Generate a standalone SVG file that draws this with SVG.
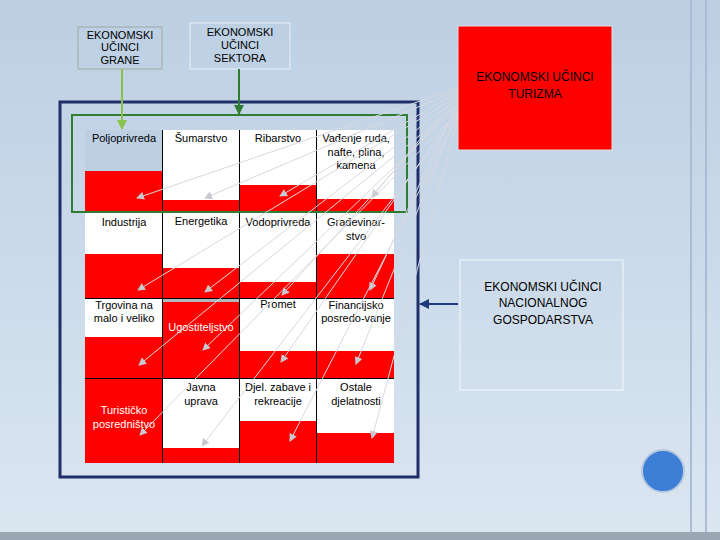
<svg xmlns="http://www.w3.org/2000/svg" width="720" height="540" viewBox="0 0 720 540">
<defs>
<linearGradient id="bg" x1="0" y1="0" x2="0" y2="1"><stop offset="0" stop-color="#bccfe3"/><stop offset="1" stop-color="#dbe6f1"/></linearGradient>
<marker id="ah" markerWidth="8" markerHeight="8" refX="7" refY="4" orient="auto" markerUnits="userSpaceOnUse"><path d="M0,0 L8,4 L0,8 z" fill="#c8c8d0"/></marker>
<marker id="gn" markerWidth="10" markerHeight="10" refX="9" refY="5" orient="auto" markerUnits="userSpaceOnUse"><path d="M0,0 L10,5 L0,10 z" fill="#2e7d32"/></marker>
<marker id="lg" markerWidth="10" markerHeight="10" refX="9" refY="5" orient="auto" markerUnits="userSpaceOnUse"><path d="M0,0 L10,5 L0,10 z" fill="#8bc34a"/></marker>
<marker id="nv" markerWidth="10" markerHeight="10" refX="9" refY="5" orient="auto" markerUnits="userSpaceOnUse"><path d="M0,0 L10,5 L0,10 z" fill="#1f3a7a"/></marker>
</defs>
<style>
.t{font-family:"Liberation Sans",Arial,sans-serif;font-size:11px;fill:#000;text-anchor:middle}
.tw{font-family:"Liberation Sans",Arial,sans-serif;font-size:11px;fill:#fff;text-anchor:middle}
.h{font-family:"Liberation Sans",Arial,sans-serif;font-size:11px;fill:#000;text-anchor:middle}
.r{fill:#ff0000}.w{fill:#fff}
.c line{stroke:#d8d8e0;stroke-width:1;marker-end:url(#ah)}
</style>
<rect width="720" height="540" fill="url(#bg)"/>
<line x1="691" y1="0" x2="691" y2="540" stroke="#a9bdd4" stroke-width="2"/>
<line x1="706" y1="0" x2="706" y2="540" stroke="#a9bdd4" stroke-width="2"/>
<rect x="0" y="532" width="720" height="8" fill="#9aa6b2"/>
<circle cx="663" cy="471" r="21" fill="#3d7fd6" stroke="#b8c8e0" stroke-width="2"/>

<g id="grane"><rect x="78" y="27" width="84" height="42" fill="none" stroke="#a0a8a0"/>
<text class="h" x="120" y="39">EKONOMSKI</text><text class="h" x="120" y="51">UČINCI</text><text class="h" x="120" y="64">GRANE</text></g>
<g id="sektora"><rect x="190" y="23" width="100" height="46" fill="none" stroke="#e8eef4"/>
<text class="h" x="240" y="36">EKONOMSKI</text><text class="h" x="240" y="49">UČINCI</text><text class="h" x="240" y="62">SEKTORA</text></g>
<g id="turizma"><rect x="458" y="26" width="154" height="124" fill="#ff0000" stroke="#e0e0e0"/>
<text class="h" x="535" y="81" style="font-size:12px">EKONOMSKI UČINCI</text><text class="h" x="535" y="98" style="font-size:12px">TURIZMA</text></g>
<g id="nacionalnog"><rect x="460" y="260" width="163" height="130" fill="none" stroke="#f4f8fb"/>
<text class="h" x="543" y="291" style="font-size:12px">EKONOMSKI UČINCI</text><text class="h" x="543" y="307" style="font-size:12px">NACIONALNOG</text><text class="h" x="543" y="324" style="font-size:12px">GOSPODARSTVA</text></g>

<g id="frame"><rect x="60" y="102" width="358" height="375" fill="none" stroke="#1f2f6a" stroke-width="3"/></g>

<g id="grid">
<rect x="85" y="130" width="309" height="333" fill="#000"/>
<!-- row1 -->
<rect x="85" y="130" width="77" height="41" fill="#bccfe3"/><rect class="r" x="85" y="171" width="77" height="41"/>
<rect class="w" x="163" y="130" width="76" height="70"/><rect class="r" x="163" y="200" width="76" height="12"/>
<rect class="w" x="240" y="130" width="76" height="55"/><rect class="r" x="240" y="185" width="76" height="27"/>
<rect class="w" x="317" y="130" width="77" height="69"/><rect class="r" x="317" y="199" width="77" height="13"/>
<!-- row2 -->
<rect class="w" x="85" y="213" width="77" height="41"/><rect class="r" x="85" y="254" width="77" height="44"/>
<rect class="w" x="163" y="213" width="76" height="55"/><rect class="r" x="163" y="268" width="76" height="30"/>
<rect class="w" x="240" y="213" width="76" height="69"/><rect class="r" x="240" y="282" width="76" height="16"/>
<rect class="w" x="317" y="213" width="77" height="41"/><rect class="r" x="317" y="254" width="77" height="44"/>
<!-- row3 -->
<rect class="w" x="85" y="299" width="77" height="38"/><rect class="r" x="85" y="337" width="77" height="41"/>
<rect x="163" y="299" width="76" height="3" fill="#b0b8c0"/><rect class="r" x="163" y="302" width="76" height="76"/>
<rect class="w" x="240" y="299" width="76" height="52"/><rect class="r" x="240" y="351" width="76" height="27"/>
<rect class="w" x="317" y="299" width="77" height="52"/><rect class="r" x="317" y="351" width="77" height="27"/>
<!-- row4 -->
<rect class="r" x="85" y="379" width="77" height="84"/>
<rect class="w" x="163" y="379" width="76" height="69"/><rect class="r" x="163" y="448" width="76" height="15"/>
<rect class="w" x="240" y="379" width="76" height="42"/><rect class="r" x="240" y="421" width="76" height="42"/>
<rect class="w" x="317" y="379" width="77" height="54"/><rect class="r" x="317" y="433" width="77" height="30"/>
<text class="t" x="124" y="142">Poljoprivreda</text>
<text class="t" x="201" y="142">Šumarstvo</text>
<text class="t" x="278" y="142">Ribarstvo</text>
<text class="t" x="356" y="142">Vađenje ruda,</text><text class="t" x="356" y="156">nafte, plina,</text><text class="t" x="356" y="169">kamena</text>
<text class="t" x="124" y="226">Industrija</text>
<text class="t" x="201" y="225">Energetika</text>
<text class="t" x="278" y="226">Vodoprivreda</text>
<text class="t" x="356" y="226">Građevinar-</text><text class="t" x="356" y="240">stvo</text>
<text class="t" x="124" y="309">Trgovina na</text><text class="t" x="124" y="322">malo i veliko</text>
<text class="tw" x="201" y="331">Ugostiteljstvo</text>
<text class="t" x="278" y="308">Promet</text>
<text class="t" x="356" y="309">Financijsko</text><text class="t" x="356" y="322">posredo-vanje</text>
<text class="tw" x="124" y="414">Turističko</text><text class="tw" x="124" y="428">posredništvo</text>
<text class="t" x="201" y="391">Javna</text><text class="t" x="201" y="405">uprava</text>
<text class="t" x="278" y="391">Djel. zabave i</text><text class="t" x="278" y="405">rekreacije</text>
<text class="t" x="356" y="391">Ostale</text><text class="t" x="356" y="405">djelatnosti</text>
</g>

<g id="green"><rect x="72" y="115" width="335" height="97" fill="none" stroke="#2e7d32" stroke-width="2"/></g>

<g id="connectors">
<line x1="122" y1="69" x2="122" y2="129" stroke="#8bc34a" stroke-width="2" marker-end="url(#lg)"/>
<line x1="239" y1="69" x2="239" y2="114" stroke="#2e7d32" stroke-width="2" marker-end="url(#gn)"/>
<line x1="458" y1="304" x2="420" y2="304" stroke="#1f3a7a" stroke-width="2" marker-end="url(#nv)"/>
<g class="c">
<line x1="458" y1="88" x2="137" y2="198"/>
<line x1="458" y1="90" x2="205" y2="198"/>
<line x1="458" y1="92" x2="280" y2="196"/>
<line x1="458" y1="94" x2="372" y2="197"/>
<line x1="458" y1="96" x2="138" y2="290"/>
<line x1="458" y1="98" x2="205" y2="292"/>
<line x1="458" y1="100" x2="282" y2="295"/>
<line x1="458" y1="102" x2="370" y2="290"/>
<line x1="458" y1="104" x2="139" y2="365"/>
<line x1="458" y1="106" x2="203" y2="350"/>
<line x1="458" y1="108" x2="281" y2="362"/>
<line x1="458" y1="110" x2="356" y2="364"/>
<line x1="458" y1="112" x2="140" y2="435"/>
<line x1="458" y1="114" x2="202" y2="446"/>
<line x1="458" y1="116" x2="290" y2="441"/>
<line x1="458" y1="118" x2="372" y2="438"/>
</g>
</g>
</svg>
